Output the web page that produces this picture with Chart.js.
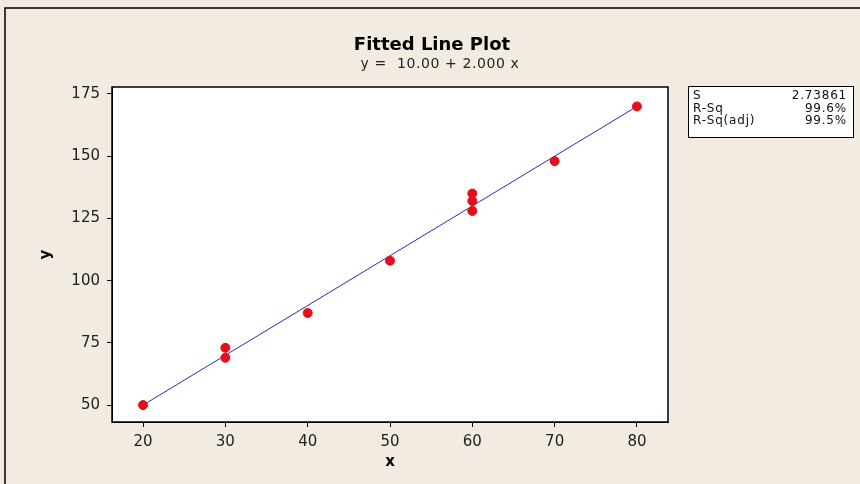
<!DOCTYPE html>
<html>
<head>
<meta charset="utf-8">
<title>Fitted Line Plot</title>
<script src="https://cdn.jsdelivr.net/npm/chart.js@4.4.1/dist/chart.umd.min.js"></script>
<style>
  html, body { margin: 0; padding: 0; background: #f1ebe2; }
  canvas { display: block; }
</style>
</head>
<body>
<canvas id="chart" width="860" height="484"></canvas>
<script>
// observations
const xValues = [20, 30, 30, 40, 50, 60, 60, 60, 70, 80];
const yValues = [50, 73, 69, 87, 108, 135, 132, 128, 148, 170];

// fitted line end points (y = 10 + 2x)
const fitX = [20, 80];
const fitY = [50, 170];

const xTicks = [20, 30, 40, 50, 60, 70, 80];
const yTicks = [50, 75, 100, 125, 150, 175];

const statLabels = ['S', 'R-Sq', 'R-Sq(adj)'];
const statValues = ['2.73861', '99.6%', '99.5%'];

const FONT = '"DejaVu Sans", Verdana, sans-serif';

const frame = {
  id: 'frame',
  beforeDraw(chart) {
    const c = chart.ctx;
    c.save();
    c.fillStyle = '#f1ebe2';
    c.fillRect(0, 0, chart.width, chart.height);
    c.strokeStyle = '#000';
    c.lineWidth = 1.5;
    c.beginPath();
    c.moveTo(5, chart.height);
    c.lineTo(5, 8);
    c.lineTo(chart.width, 8);
    c.stroke();
    // white plotting region
    const a = chart.chartArea;
    c.fillStyle = '#fff';
    c.fillRect(a.left, a.top, a.right - a.left, a.bottom - a.top);
    c.restore();
  },
  afterDraw(chart) {
    const c = chart.ctx;
    const a = chart.chartArea;
    c.save();
    c.strokeStyle = '#000';
    c.lineWidth = 1.5;
    c.strokeRect(a.left, a.top, a.right - a.left, a.bottom - a.top);

    // titles
    c.fillStyle = '#000';
    c.textAlign = 'center';
    c.textBaseline = 'alphabetic';
    c.font = 'bold 18px ' + FONT;
    c.fillText('Fitted Line Plot', 432, 50);
    c.font = '14px ' + FONT;
    c.letterSpacing = '0.6px';
    c.fillStyle = '#222';
    c.fillText('y =  10.00 + 2.000 x', 440, 68);

    // stats box
    const bx = 688, by = 86, bw = 165, bh = 51;
    c.fillStyle = '#fff';
    c.fillRect(bx, by, bw, bh);
    c.strokeStyle = '#000';
    c.lineWidth = 1;
    c.strokeRect(bx + 0.5, by + 0.5, bw, bh);
    c.font = '12px ' + FONT;
    c.letterSpacing = '0.8px';
    c.fillStyle = '#111';
    c.textBaseline = 'middle';
    statLabels.forEach((lab, i) => {
      c.textAlign = 'left';
      c.fillText(lab, bx + 5, by + 10 + i * 12.5);
      c.textAlign = 'right';
      c.fillText(statValues[i], bx + bw - 6, by + 10 + i * 12.5);
    });
    c.restore();
  }
};

const ctx = document.getElementById('chart').getContext('2d');
const chart = new Chart(ctx, {
  type: 'scatter',
  data: {
    datasets: [{
      label: 'fit',
      type: 'line',
      data: fitX.map((x, i) => ({ x: x, y: fitY[i] })),
      borderColor: '#2a2ac8',
      borderWidth: 1,
      pointRadius: 0,
      fill: false,
      order: 2
    }, {
      label: 'y',
      data: xValues.map((x, i) => ({ x: x, y: yValues[i] })),
      backgroundColor: '#e3101c',
      borderColor: '#e3101c',
      pointRadius: 4.5,
      pointHoverRadius: 4.5,
      order: 1
    }]
  },
  options: {
    responsive: false,
    animation: false,
    layout: { padding: { top: 87, right: 192, left: 0, bottom: 0 } },
    plugins: {
      legend: { display: false },
      tooltip: { enabled: false }
    },
    scales: {
      x: {
        type: 'linear',
        min: 16.23,
        max: 83.77,
        afterBuildTicks: (s) => { s.ticks = xTicks.map(v => ({ value: v })); },
        afterFit: (s) => { s.height = 62; },
        grid: { drawOnChartArea: false, drawTicks: true, tickLength: 5, color: '#000' },
        border: { display: true, color: '#000' },
        ticks: { padding: 6, color: '#222', font: { family: FONT, size: 15 } },
        title: { display: true, text: 'x', color: '#000', padding: { top: 0, bottom: 13 },
                 font: { family: FONT, size: 15, weight: 'bold' } }
      },
      y: {
        type: 'linear',
        min: 43.2,
        max: 177.8,
        afterBuildTicks: (s) => { s.ticks = yTicks.map(v => ({ value: v })); },
        afterFit: (s) => { s.width = 112; },
        grid: { drawOnChartArea: false, drawTicks: true, tickLength: 5, color: '#000' },
        border: { display: true, color: '#000' },
        ticks: { padding: 7, color: '#222', font: { family: FONT, size: 15 } },
        title: { display: true, text: 'y', color: '#000', padding: { top: 37, bottom: 0 },
                 font: { family: FONT, size: 15, weight: 'bold' } }
      }
    }
  },
  plugins: [frame]
});
</script>
</body>
</html>
